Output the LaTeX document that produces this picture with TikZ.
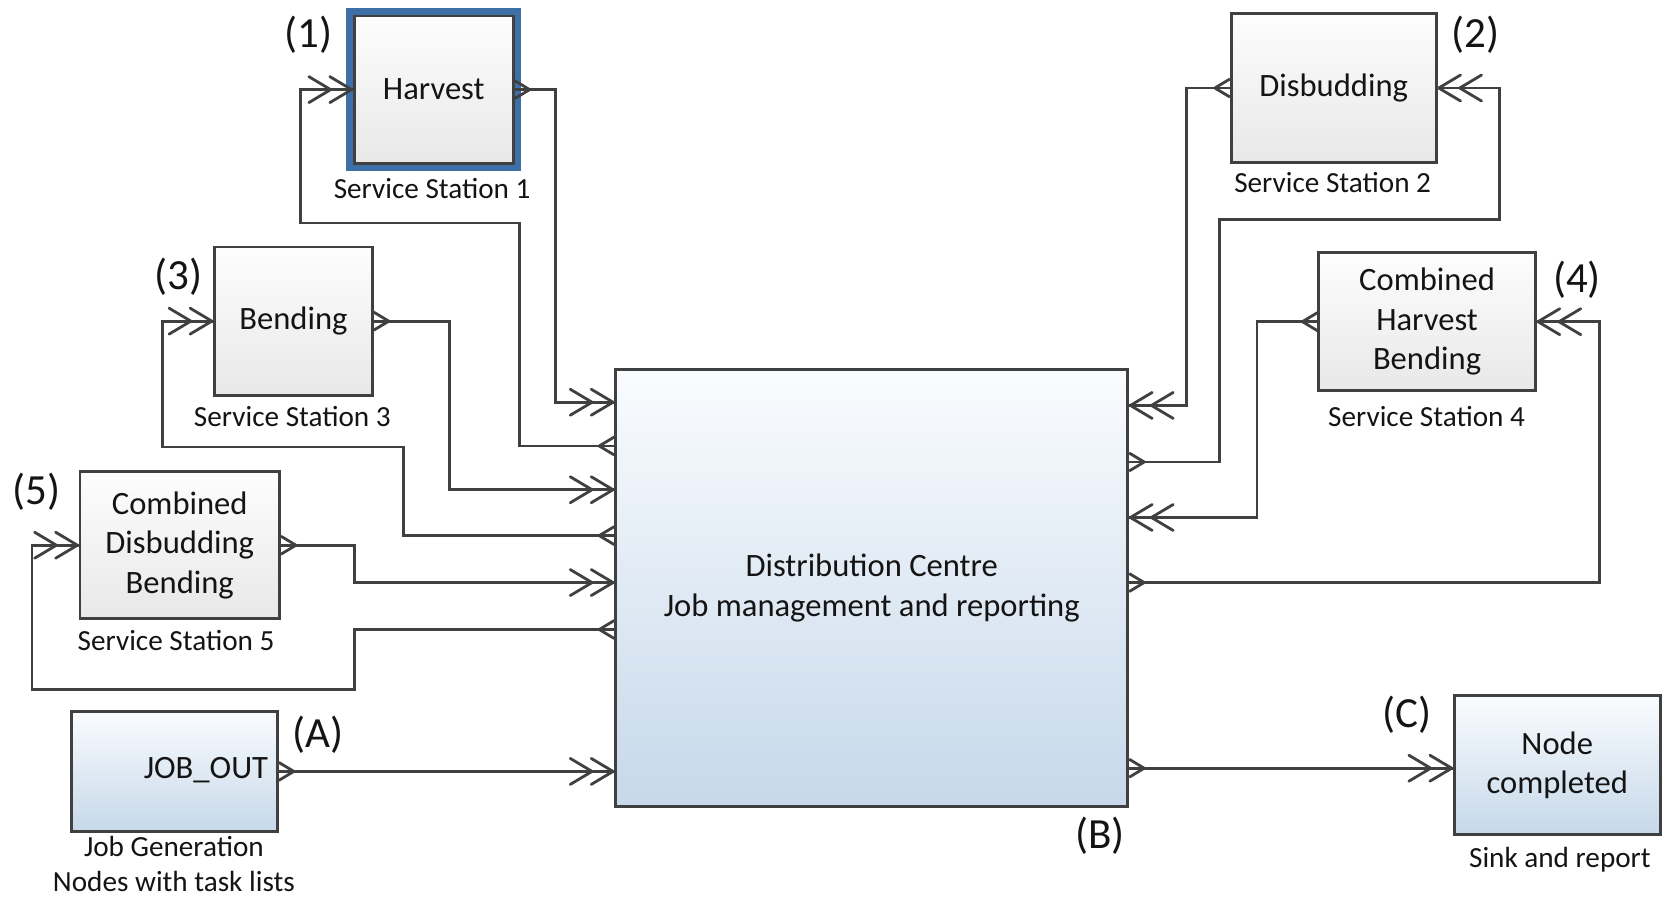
\documentclass[tikz,border=0pt]{standalone}
\usepackage{fontspec}
\setmainfont{Carlito}
\usetikzlibrary{arrows.meta,calc}

\definecolor{ln}{RGB}{64,64,64}
\definecolor{txt}{RGB}{20,20,20}
\definecolor{gtop}{RGB}{253,253,253}
\definecolor{gbot}{RGB}{232,232,232}
\definecolor{btop}{RGB}{250,252,254}
\definecolor{bbot}{RGB}{198,216,234}
\definecolor{hblue}{RGB}{62,112,168}

\pgfdeclarearrow{
  name = DBarb,
  setup code = {
    \pgfarrowssettipend{0pt}
    \pgfarrowssetbackend{-22pt}
    \pgfarrowssetlineend{0pt}
    \pgfarrowshullpoint{0pt}{0pt}
    \pgfarrowsupperhullpoint{-22pt}{6.5pt}
  },
  drawing code = {
    \pgfsetlinewidth{1.4pt}
    \pgfsetroundjoin
    \pgfsetroundcap
    \pgfpathmoveto{\pgfqpoint{-11.5pt}{6.5pt}}
    \pgfpathlineto{\pgfqpoint{-0.6pt}{0pt}}
    \pgfpathlineto{\pgfqpoint{-11.5pt}{-6.5pt}}
    \pgfpathmoveto{\pgfqpoint{-22pt}{6.5pt}}
    \pgfpathlineto{\pgfqpoint{-11.1pt}{0pt}}
    \pgfpathlineto{\pgfqpoint{-22pt}{-6.5pt}}
    \pgfusepathqstroke
  }
}
\pgfdeclarearrow{
  name = Crow,
  setup code = {
    \pgfarrowssettipend{0pt}
    \pgfarrowssetbackend{-7.5pt}
    \pgfarrowssetlineend{0pt}
    \pgfarrowshullpoint{0pt}{0pt}
    \pgfarrowsupperhullpoint{-7.5pt}{4.5pt}
  },
  drawing code = {
    \pgfsetlinewidth{1.4pt}
    \pgfsetmiterjoin
    \pgfpathmoveto{\pgfqpoint{0pt}{4.5pt}}
    \pgfpathlineto{\pgfqpoint{-7.5pt}{0pt}}
    \pgfpathlineto{\pgfqpoint{0pt}{-4.5pt}}
    \pgfusepathqstroke
  }
}

\newcommand\bxf{\fontsize{16.3pt}{19.7pt}\selectfont}
\newcommand\sbf{\fontsize{14.6pt}{17.6pt}\selectfont}
\newcommand\lbf{\fontsize{21.5pt}{25pt}\selectfont}
\def\pxu{0.5335pt}

\begin{document}
\begin{tikzpicture}[x=0.5335pt,y=-0.5335pt,
  box/.style={draw=ln, line width=1.4pt, inner sep=0pt, align=center, font=\bxf, text=txt},
  graybox/.style={box, top color=gtop, bottom color=gbot},
  bluebox/.style={box, top color=btop, bottom color=bbot},
  lbl/.style={font=\lbf, text=txt, inner sep=0pt},
  sub/.style={font=\sbf, text=txt, inner sep=0pt, align=center},
  conn/.style={draw=ln, line width=1.4pt, arrows=Crow-DBarb}
]
\fill[white] (0,0) rectangle (1568,842);
\useasboundingbox (0,0) rectangle (1568,842);

% nodes
\node[graybox, preaction={draw=hblue, line width=8pt}, minimum width=149*\pxu, minimum height=138*\pxu] (harv) at (406.5,84) {Harvest};
\node[graybox, minimum width=192*\pxu, minimum height=139*\pxu] (disb) at (1250,82.5) {Disbudding};
\node[graybox, minimum width=148*\pxu, minimum height=139*\pxu] (bend) at (275,301) {Bending};
\node[graybox, minimum width=203*\pxu, minimum height=129*\pxu] (chb) at (1337.5,301.5) {Combined\\Harvest\\Bending};
\node[graybox, minimum width=187*\pxu, minimum height=138*\pxu] (cdb) at (168.5,511) {Combined\\Disbudding\\Bending};
\node[bluebox, minimum width=193*\pxu, minimum height=113*\pxu] (job) at (163.5,723) {};
\node[font=\bxf, text=txt, inner sep=0pt] (jobtxt) at (193,722) {JOB\_OUT};
\node[bluebox, minimum width=480*\pxu, minimum height=410*\pxu] (dc) at (817,551) {Distribution Centre\\Job management and reporting};
\node[bluebox, minimum width=193*\pxu, minimum height=130*\pxu] (sink) at (1459.5,717) {Node\\completed};

% labels
\node[lbl] (l1) at (289,33) {(1)};
\node[lbl] (l2) at (1383,33) {(2)};
\node[lbl] (l3) at (167,259) {(3)};
\node[lbl] (l4) at (1478,262) {(4)};
\node[lbl] (l5) at (34,461) {(5)};
\node[lbl] (lA) at (298,689) {(A)};
\node[lbl] (lB) at (1031,783) {(B)};
\node[lbl] (lC) at (1319,670) {(C)};

\node[sub] (s1) at (405,177) {Service Station 1};
\node[sub] (s2) at (1249,171) {Service Station 2};
\node[sub] (s3) at (274,390) {Service Station 3};
\node[sub] (s4) at (1337,390) {Service Station 4};
\node[sub] (s5) at (165,600) {Service Station 5};
\node[sub] (sj) at (163,810) {Job Generation\\Nodes with task lists};
\node[sub] (ss) at (1462,806) {Sink and report};

% connectors
\draw[conn] (harv.east) -| (521,377) -- (dc.west |- 0,377);
\draw[conn] (dc.west |- 0,418) -| (487,209) -| (282,84) -- (harv.west);
\draw[conn] (bend.east) -| (421,459) -- (dc.west |- 0,459);
\draw[conn] (dc.west |- 0,502) -| (378,419) -| (152,301) -- (bend.west);
\draw[conn] (cdb.east) -| (332,546) -- (dc.west |- 0,546);
\draw[conn] (dc.west |- 0,590) -| (332,646) -| (30,511) -- (cdb.west);
\draw[conn] (job.east) -- (dc.west |- job.east);
\draw[conn] (disb.west) -| (1112,380) -- (dc.east |- 0,380);
\draw[conn] (dc.east |- 0,433) -| (1143,206) -| (1405,82.5) -- (disb.east);
\draw[conn] (chb.west) -| (1178,485) -- (dc.east |- 0,485);
\draw[conn] (dc.east |- 0,546) -| (1499,301.5) -- (chb.east);
\draw[conn] (dc.east |- 0,720) -- (sink.west |- 0,720);
\end{tikzpicture}
\end{document}
